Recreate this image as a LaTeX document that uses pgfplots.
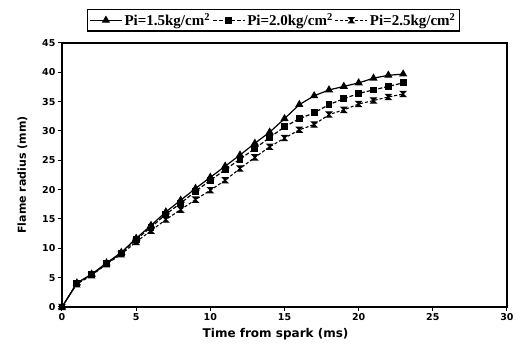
\documentclass[border=0pt]{standalone}
\usepackage{fontspec}
\setmainfont{DejaVu Sans}
\newfontfamily\legfont{Liberation Serif}
\usepackage{pgfplots}
\pgfplotsset{compat=1.18}

% filled hourglass mark
\pgfdeclareplotmark{hourglass}{%
  \pgfpathmoveto{\pgfqpoint{-\pgfplotmarksize}{\pgfplotmarksize}}%
  \pgfpathlineto{\pgfqpoint{\pgfplotmarksize}{\pgfplotmarksize}}%
  \pgfpathlineto{\pgfqpoint{-\pgfplotmarksize}{-\pgfplotmarksize}}%
  \pgfpathlineto{\pgfqpoint{\pgfplotmarksize}{-\pgfplotmarksize}}%
  \pgfpathclose
  \pgfusepathqfillstroke}

\pgfplotstableread{
t   a     b     c
0   0     0     0
1   4.1   4.0   3.9
2   5.6   5.5   5.4
3   7.5   7.4   7.3
4   9.3   9.2   9.0
5   11.7  11.5  11.1
6   13.9  13.6  13.0
7   16.2  15.8  14.9
8   18.2  17.7  16.6
9   20.2  19.7  18.3
10  22.1  21.6  19.9
11  24.0  23.4  21.6
12  25.9  25.2  23.6
13  27.9  27.0  25.5
14  29.8  28.9  27.3
15  32.1  30.7  28.8
16  34.5  32.1  30.2
17  36.0  33.1  31.1
18  37.0  34.5  32.8
19  37.6  35.5  33.6
20  38.2  36.4  34.6
21  39.0  37.0  35.2
22  39.5  37.6  35.8
23  39.7  38.2  36.3
}\flame

\begin{document}
\begin{tikzpicture}[x=1pt,y=1pt]
\useasboundingbox (-62,-43) rectangle (461,307);
\begin{axis}[
  at={(0,0)}, anchor=south west,
  width=445pt, height=264pt, scale only axis,
  xmin=0, xmax=30, ymin=0, ymax=45,
  xtick={0,5,...,30}, ytick={0,5,...,45},
  tick align=outside, tick pos=left,
  axis line style={line width=1.6pt},
  major tick style={line width=1pt, black},
  major tick length=4pt,
  /pgf/number format/assume math mode=true,
  ticklabel style={font=\bfseries\fontsize{9.5}{9.5}\selectfont},
  yticklabel style={xshift=1pt},
  xticklabel style={yshift=1pt},
  xlabel={Time from spark (ms)},
  ylabel={Flame radius (mm)},
  xlabel style={font=\bfseries\fontsize{12}{12}\selectfont,
    at={(axis description cs:0.48,0)}, anchor=north, yshift=-18pt},
  ylabel style={font=\bfseries\fontsize{11}{11}\selectfont, yshift=8pt},
  clip=false,
  legend image code/.code={%
    \draw[mark repeat=2, mark phase=2, #1]
      plot coordinates {(0pt,0pt) (16pt,0pt) (32pt,0pt)};},
  legend columns=3,
  legend style={at={(0.475,1.042)}, anchor=south, draw=black, line width=1.5pt,
    font=\legfont\bfseries\fontsize{15}{15}\selectfont, inner sep=2pt,
    /tikz/every odd column/.style={column sep=0pt}},
  legend cell align=left,
]
\addplot[black, line width=1.2pt, mark=triangle*, mark size=3.6pt,
  mark options={solid}] table[x=t,y=a] {\flame};
\addlegendentry{Pi=1.5kg/cm\textsuperscript{2}}
\addplot[black, line width=1.2pt, dash pattern=on 4pt off 2pt, mark=square*,
  mark size=2.8pt, mark options={solid}] table[x=t,y=b] {\flame};
\addlegendentry{Pi=2.0kg/cm\textsuperscript{2}}
\addplot[black, line width=1.1pt, dash pattern=on 3pt off 2pt, mark=hourglass,
  mark size=2.6pt, mark options={solid}] table[x=t,y=c] {\flame};
\addlegendentry{Pi=2.5kg/cm\textsuperscript{2}}
\end{axis}
\end{tikzpicture}
\end{document}
